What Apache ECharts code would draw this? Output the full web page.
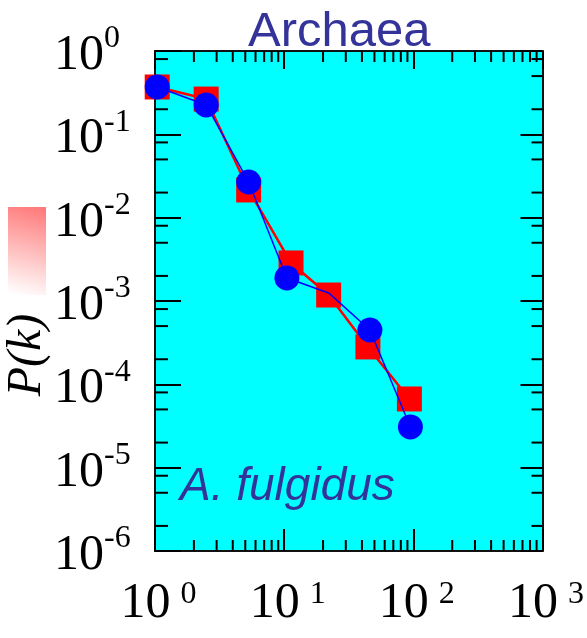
<!DOCTYPE html>
<html>
<head>
<meta charset="utf-8">
<script src="https://cdn.jsdelivr.net/npm/echarts@6/dist/echarts.min.js"></script>
<style>
  html, body { margin: 0; padding: 0; background: #ffffff; }
  #chart { width: 587px; height: 638px; }
</style>
</head>
<body>
<div id="chart"></div>
<script>
// Log-binned degree distribution P(k) for A. fulgidus (two link directions)
const redK  = [1.04, 2.49, 5.31, 11.3, 22.1, 44.5, 93.2];
const redP  = [0.370, 0.265, 0.0215, 0.00286, 0.00118, 0.000281, 0.0000667];
const blueK = [1.04, 2.49, 5.31, 10.5, 22.1, 46.1, 94.9];
const blueP = [0.370, 0.225, 0.0268, 0.00189, 0.00125, 0.000449, 0.0000308];
// the blue k≈22 point lies under a red square; its marker is not drawn
const blueMarkerShown = [true, true, true, true, false, true, true];

// axis decades (exponents) and minor tick mantissas
const xDecades = [0, 1, 2, 3];
const yDecades = [-6, -5, -4, -3, -2, -1, 0];
const xMinorMantissas = [2, 3, 4, 5, 6, 7, 8, 9];
const yMinorMantissas = [2, 5, 8];

const titleText = 'Archaea';
const speciesText = 'A. fulgidus';
const yAxisTitle = 'P(k)';

const xMin = Math.pow(10, xDecades[0]);
const xMax = Math.pow(10, xDecades[xDecades.length - 1]);
const yMin = Math.pow(10, yDecades[0]);
const yMax = Math.pow(10, yDecades[yDecades.length - 1]);

const xMinor = [];
xDecades.slice(0, -1).forEach(d => xMinorMantissas.forEach(m => xMinor.push([m * Math.pow(10, d), yMax])));
const yMinor = [];
yDecades.slice(0, -1).forEach(d => yMinorMantissas.forEach(m => yMinor.push([xMin, m * Math.pow(10, d)])));

const redData = redK.map((k, i) => [k, redP[i]]);
const blueData = blueK.map((k, i) => blueMarkerShown[i]
  ? [k, blueP[i]]
  : { value: [k, blueP[i]], symbol: 'none' });

const SERIF = '"Liberation Serif", "Times New Roman", serif';
const SANS = '"Liberation Sans", Arial, sans-serif';
const INK = '#111111';
const LABEL_BLUE = '#333399';
const MINOR_LEN = 11;

function powLabel(v) {
  const e = Math.round(Math.log10(v));
  return '{a|10}{b|' + e + '}';
}

const yRich = {
  a: { fontFamily: SERIF, fontSize: 50, lineHeight: 58, verticalAlign: 'bottom', color: '#000' },
  b: { fontFamily: SERIF, fontSize: 32, lineHeight: 30, verticalAlign: 'top', color: '#000' }
};
const xRich = {
  a: { fontFamily: SERIF, fontSize: 50, lineHeight: 50, verticalAlign: 'bottom', color: '#000' },
  b: { fontFamily: SERIF, fontSize: 32, lineHeight: 30, verticalAlign: 'top', color: '#000', padding: [0, 0, 0, 10] }
};

function frameAxis(extra) {
  return Object.assign({
    type: 'log',
    logBase: 10,
    axisLine: { show: true, onZero: false, lineStyle: { color: INK, width: 2 } },
    axisTick: { show: true, inside: true, length: 22, lineStyle: { color: '#000', width: 2 } },
    minorTick: { show: false },
    splitLine: { show: false }
  }, extra);
}

const chart = echarts.init(document.getElementById('chart'), null, { renderer: 'canvas' });

chart.setOption({
  animation: false,
  backgroundColor: '#ffffff',
  title: {
    text: titleText,
    left: 243,
    top: 2,
    textStyle: { fontFamily: SANS, fontSize: 49, fontWeight: 'normal', color: LABEL_BLUE, lineHeight: 50 }
  },
  grid: {
    left: 155, top: 51, right: 39, bottom: 87,
    show: true, backgroundColor: '#00ffff', borderWidth: 0
  },
  xAxis: [
    frameAxis({
      position: 'bottom', min: xMin, max: xMax,
      axisLabel: { show: true, formatter: powLabel, rich: xRich, margin: 28, padding: [0, 0, 0, 7] }
    }),
    frameAxis({
      position: 'top', min: xMin, max: xMax,
      axisTick: { show: true, inside: true, length: 18, lineStyle: { color: '#000', width: 2 } },
      axisLabel: { show: false }
    })
  ],
  yAxis: [
    frameAxis({
      position: 'left', min: yMin, max: yMax,
      axisTick: { show: true, inside: true, length: 26, lineStyle: { color: '#000', width: 2 } },
      axisLabel: { show: true, formatter: powLabel, rich: yRich, align: 'left', margin: 101, padding: [2, 0, 0, 0] }
    }),
    frameAxis({
      position: 'right', min: yMin, max: yMax,
      axisTick: { show: true, inside: true, length: 22, lineStyle: { color: '#000', width: 2 } },
      axisLabel: { show: false }
    })
  ],
  graphic: [
    {
      type: 'rect', left: 8, top: 207, z: 1,
      shape: { width: 38, height: 88 },
      style: {
        fill: new echarts.graphic.LinearGradient(0.8, 0, 0.2, 1, [
          { offset: 0, color: '#ff7a7a' },
          { offset: 1, color: '#ffffff' }
        ])
      }
    },
    {
      type: 'text', x: 27, y: 355, rotation: Math.PI / 2, z: 5,
      style: { text: yAxisTitle, font: 'italic 48px ' + SERIF, fill: '#000', align: 'center', verticalAlign: 'middle' }
    },
    {
      type: 'text', x: 180, y: 487, z: 5,
      style: { text: speciesText, font: 'italic 46px ' + SANS, fill: LABEL_BLUE, align: 'left', verticalAlign: 'middle' }
    }
  ],
  series: [
    {
      // minor ticks along bottom and top edges
      type: 'custom', xAxisIndex: 0, yAxisIndex: 0, silent: true, clip: false, z: 1,
      data: xMinor,
      renderItem: function (params, api) {
        const v = api.value(0);
        const b = api.coord([v, yMin]);
        const t = api.coord([v, yMax]);
        const st = { stroke: '#000', lineWidth: 2 };
        return { type: 'group', children: [
          { type: 'line', shape: { x1: b[0], y1: b[1], x2: b[0], y2: b[1] - MINOR_LEN }, style: st },
          { type: 'line', shape: { x1: t[0], y1: t[1], x2: t[0], y2: t[1] + MINOR_LEN }, style: st }
        ] };
      }
    },
    {
      // minor ticks along left and right edges
      type: 'custom', xAxisIndex: 0, yAxisIndex: 0, silent: true, clip: false, z: 1,
      data: yMinor,
      renderItem: function (params, api) {
        const v = api.value(1);
        const l = api.coord([xMin, v]);
        const r = api.coord([xMax, v]);
        const st = { stroke: '#000', lineWidth: 2 };
        return { type: 'group', children: [
          { type: 'line', shape: { x1: l[0], y1: l[1], x2: l[0] + MINOR_LEN + 2, y2: l[1] }, style: st },
          { type: 'line', shape: { x1: r[0], y1: r[1], x2: r[0] - MINOR_LEN, y2: r[1] }, style: st }
        ] };
      }
    },
    {
      name: 'red', type: 'line', xAxisIndex: 0, yAxisIndex: 0, z: 3,
      data: redData,
      symbol: 'rect', symbolSize: 25,
      lineStyle: { color: '#ff0000', width: 2.5 },
      itemStyle: { color: '#ff0000' },
      clip: false
    },
    {
      name: 'blue', type: 'line', xAxisIndex: 0, yAxisIndex: 0, z: 4,
      data: blueData,
      symbol: 'circle', symbolSize: 25,
      lineStyle: { color: '#0000ff', width: 1.5 },
      itemStyle: { color: '#0000ff' },
      clip: false
    }
  ]
});
</script>
</body>
</html>
